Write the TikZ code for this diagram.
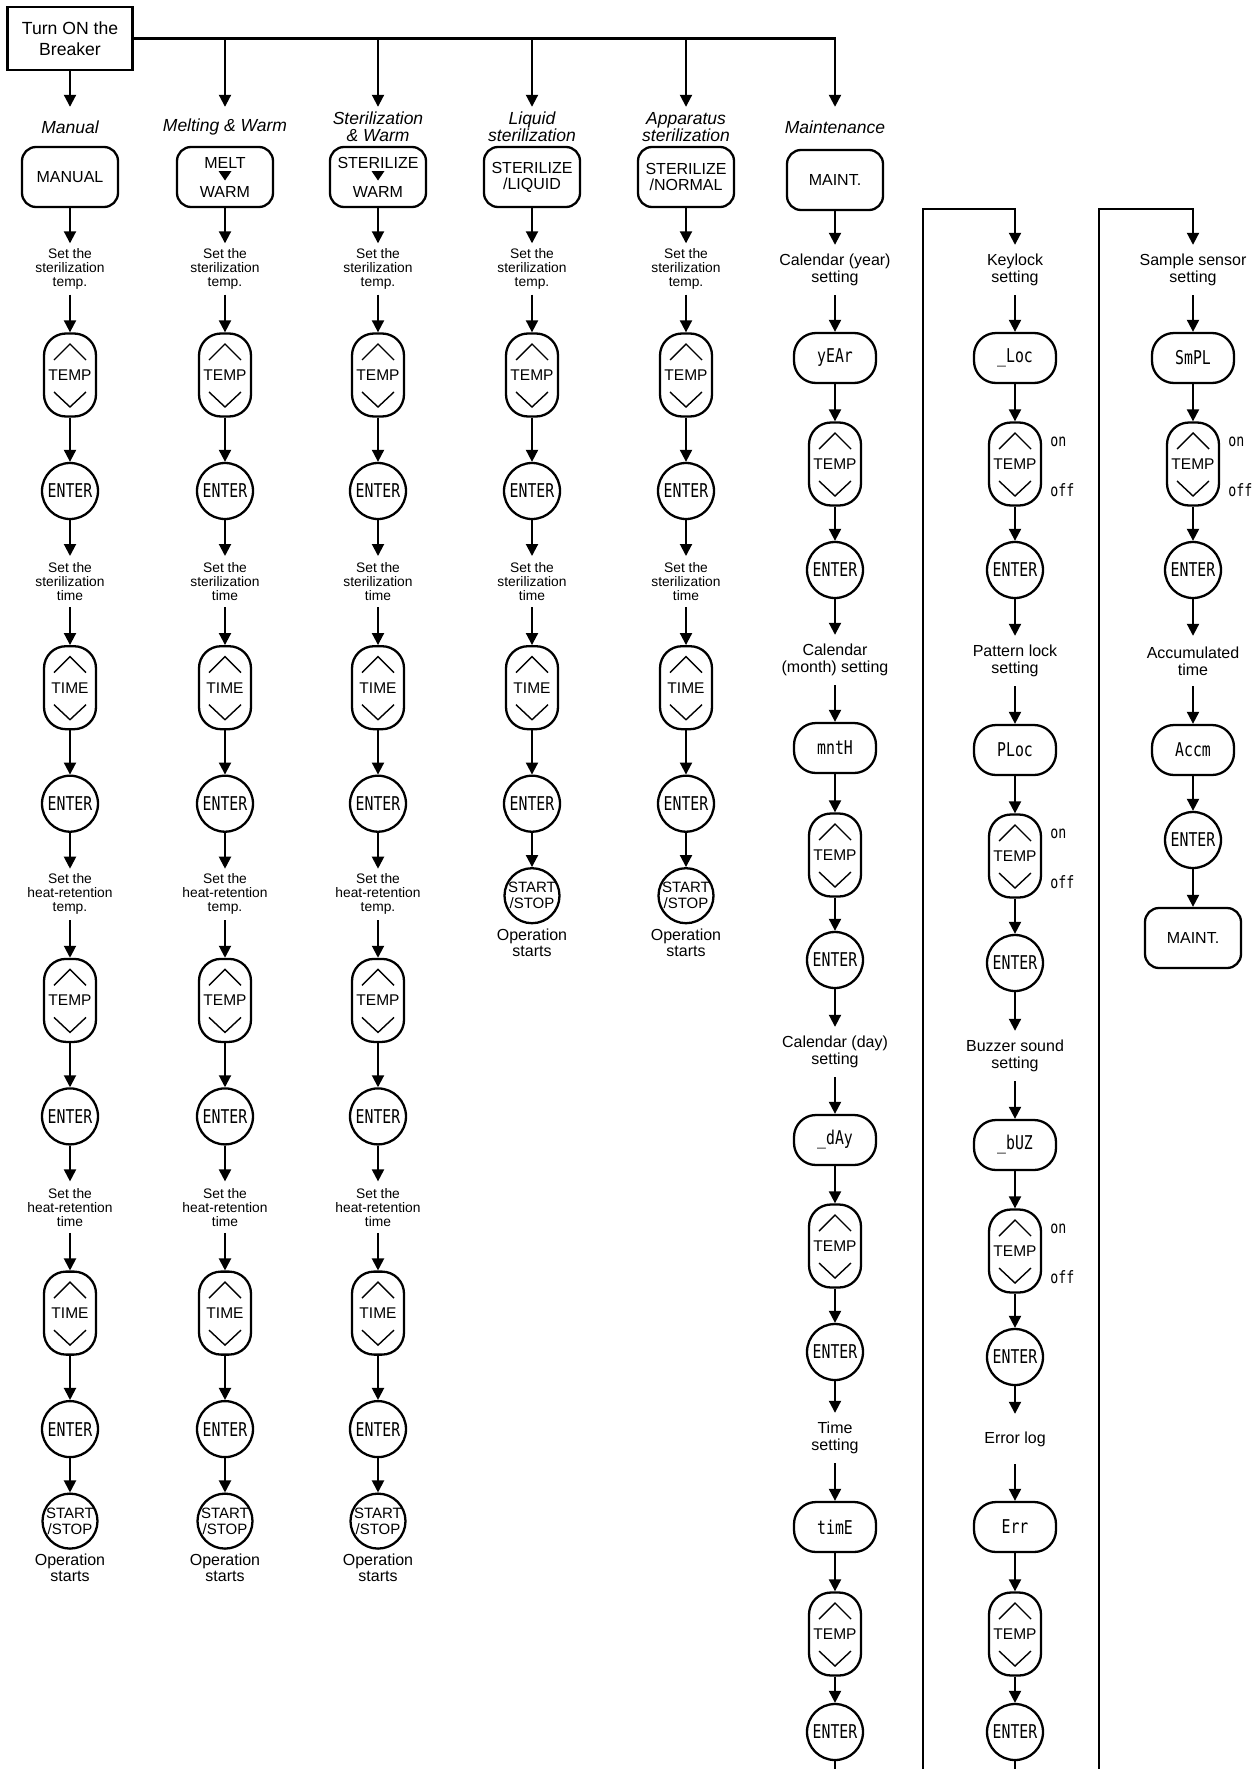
\documentclass[tikz,border=0pt]{standalone}
\usepackage{fontspec}
\setmainfont{Liberation Sans}
\newfontfamily\segfont[FakeStretch=0.78]{DejaVu Sans Mono}
\usetikzlibrary{arrows.meta}

\tikzset{
  arr/.style={line width=2pt, -{Triangle[width=12pt,length=12pt]}},
  wire/.style={line width=2pt},
  modebox/.style={draw, line width=2.3pt, rounded corners=14pt, minimum width=96pt, minimum height=60pt, inner sep=0pt, align=center, font=\fontsize{16pt}{16pt}\selectfont},
  modelabel/.style={minimum height=40pt, inner sep=0pt, align=center, font=\fontsize{17.5pt}{17pt}\selectfont\itshape},
  note/.style={minimum height=51pt, inner sep=0pt, align=center, font=\fontsize{13.8pt}{14pt}\selectfont},
  mnote/.style={minimum height=50pt, inner sep=0pt, align=center, font=\fontsize{16pt}{17pt}\selectfont},
  keybtn/.style={draw, line width=2.3pt, rounded corners=22pt, minimum width=52pt, minimum height=83pt, inner sep=0pt,
    font=\fontsize{15.5pt}{16pt}\selectfont,
    path picture={
      \draw[line width=1.4pt, sharp corners, line join=miter]
        ([shift={(-16pt,15pt)}]path picture bounding box.center) -- ++(16pt,16pt) -- ++(16pt,-16pt)
        ([shift={(-16pt,-17pt)}]path picture bounding box.center) -- ++(16pt,-15pt) -- ++(16pt,15pt);
    }},
  enterbtn/.style={draw, circle, line width=2.3pt, minimum size=56pt, inner sep=0pt, font=\fontsize{19pt}{19pt}\segfont},
  gobtn/.style={draw, circle, line width=2.3pt, minimum size=55pt, inner sep=0pt, align=center, font=\fontsize{15pt}{16pt}\selectfont},
  optext/.style={inner sep=0pt, align=center, font=\fontsize{16pt}{16pt}\selectfont},
  dispbox/.style={draw, line width=2.3pt, rounded corners=22pt, minimum width=82pt, minimum height=50pt, inner sep=0pt, font=\fontsize{19pt}{19pt}\segfont},
  onoff/.style={inner sep=0pt, anchor=base west, font=\fontsize{17pt}{17pt}\segfont},
}

\begin{document}
\begin{tikzpicture}[x=1pt, y=-1pt]
\fill[white] (0,0) rectangle (1257,1769);
\useasboundingbox (0,0) rectangle (1257,1769);

% breaker and the mode row
\node[draw, line width=2.3pt, minimum width=125pt, minimum height=63pt, inner sep=0pt, align=center,
  font=\fontsize{17.6pt}{21pt}\selectfont] (brk) at (70,38.5) {Turn ON the\\Breaker};

\foreach \c/\x/\ym/\lbl/\mode in {1/70/177/Manual/MANUAL,
    2/225/177/{Melting \& Warm}/{MELT\\[13pt]WARM},
    3/378/177/{Sterilization\\\& Warm}/{STERILIZE\\[13pt]WARM},
    4/532/177/{Liquid\\sterilization}/{STERILIZE\\/LIQUID},
    5/686/177/{Apparatus\\sterilization}/{STERILIZE\\/NORMAL},
    6/835/180/Maintenance/MAINT.}{
  \node[modelabel] (lbl\c) at (\x,127) {\lbl};
  \node[modebox] (mode\c) at (\x,\ym) {\mode};
}
\foreach \c in {2,3}
  \fill ([shift={(-6.5pt,6pt)}]mode\c.center) -- ++(13pt,0pt) -- ++(-6.5pt,-9.5pt) -- cycle;

\draw[arr] (brk) -- (lbl1);
\draw[arr, line width=2.3pt] (brk.east) -| (lbl6.north);
\foreach \c/\x in {2/225,3/378,4/532,5/686}{
  \coordinate (bus\c) at (\x,38.5);
  \draw[arr] (bus\c) -- (lbl\c.north);
}

% sterilization columns
\foreach \c/\x/\last in {1/70/4,2/225/4,3/378/4,4/532/2,5/686/2}{
  \foreach \s/\what/\kt in {1/{sterilization\\temp.}/TEMP, 2/{sterilization\\time}/TIME,
      3/{heat-retention\\temp.}/TEMP, 4/{heat-retention\\time}/TIME}{
    \ifnum\s>\last\relax\else
      \pgfmathsetmacro\yn{269+(\s-1)*312.7}
      \node[note] (n\c-\s) at (\x,\yn) {Set the\\\what};
      \node[keybtn] (k\c-\s) at (\x,\yn+106) {\kt};
      \node[enterbtn] (e\c-\s) at (\x,\yn+222) {ENTER};
      \ifnum\s=1
        \draw[arr] (mode\c) -- (n\c-\s);
      \else
        \pgfmathtruncatemacro\prev{\s-1}
        \draw[arr] (e\c-\prev) -- (n\c-\s);
      \fi
      \draw[arr] (n\c-\s) -- (k\c-\s);
      \draw[arr] (k\c-\s) -- (e\c-\s);
    \fi
  }
  \pgfmathsetmacro\ys{269+(\last-1)*312.7+314}
  \node[gobtn] (go\c) at (\x,\ys) {START\\/STOP};
  \node[optext] (op\c) at (\x,\ys+47) {Operation\\starts};
  \draw[arr] (e\c-\last) -- (go\c);
}

% maintenance columns
\foreach \col/\blk/\x/\yn/\yd/\yk/\ye/\txt/\disp in {
    mt/1/835/270/358/464/570/{Calendar (year)\\setting}/yEAr,
    mt/2/835/660/748/855/960/{Calendar\\(month) setting}/mntH,
    mt/3/835/1052/1140/1246/1352/{Calendar (day)\\setting}/{\_dAy},
    mt/4/835/1438/1527/1634/1732/{Time\\setting}/timE,
    kl/1/1015/270/358/464/570/{Keylock\\setting}/{\_Loc},
    kl/2/1015/661/750/856/963/{Pattern lock\\setting}/PLoc,
    kl/3/1015/1056/1145/1251/1357/{Buzzer sound\\setting}/{\_bUZ},
    kl/4/1015/1439/1527/1634/1732/{Error log}/Err,
    ss/1/1193/270/358/464/570/{Sample sensor\\setting}/SmPL}{
  \node[mnote] (\col-\blk-n) at (\x,\yn) {\txt};
  \node[dispbox] (\col-\blk-d) at (\x,\yd) {\disp};
  \node[keybtn] (\col-\blk-k) at (\x,\yk) {TEMP};
  \node[enterbtn] (\col-\blk-e) at (\x,\ye) {ENTER};
  \draw[arr] (\col-\blk-n) -- (\col-\blk-d);
  \draw[arr] (\col-\blk-d) -- (\col-\blk-k);
  \draw[arr] (\col-\blk-k) -- (\col-\blk-e);
}
\node[mnote] (ss-2-n) at (1193,661) {Accumulated\\time};
\node[dispbox] (ss-2-d) at (1193,750) {Accm};
\node[enterbtn] (ss-2-e) at (1193,840) {ENTER};
\node[modebox] (ssend) at (1193,938) {MAINT.};

\foreach \k in {kl-1-k,kl-2-k,kl-3-k,ss-1-k}{
  \node[onoff] (\k-on) at ([shift={(8pt,17.5pt)}]\k.east) {on};
  \node[onoff] (\k-off) at ([shift={(8pt,-32pt)}]\k.east) {off};
}

\foreach \src/\dst in {mode6/mt-1-n, mt-1-e/mt-2-n, mt-2-e/mt-3-n, mt-3-e/mt-4-n,
    kl-1-e/kl-2-n, kl-2-e/kl-3-n, kl-3-e/kl-4-n,
    ss-1-e/ss-2-n, ss-2-n/ss-2-d, ss-2-d/ss-2-e, ss-2-e/ssend}
  \draw[arr] (\src) -- (\dst);

% links running off the bottom edge
\coordinate (mtfoot) at (835,1769);
\coordinate (klfoot) at (1015,1769);
\coordinate (kllink) at (923,1769);
\coordinate (klturn) at (923,209);
\coordinate (sslink) at (1099,1769);
\coordinate (ssturn) at (1099,209);
\draw[wire] (mt-4-e) -- (mtfoot);
\draw[wire] (kl-4-e) -- (klfoot);
\draw[arr] (kllink) -- (klturn) -| (kl-1-n.north);
\draw[arr] (sslink) -- (ssturn) -| (ss-1-n.north);
\end{tikzpicture}
\end{document}
